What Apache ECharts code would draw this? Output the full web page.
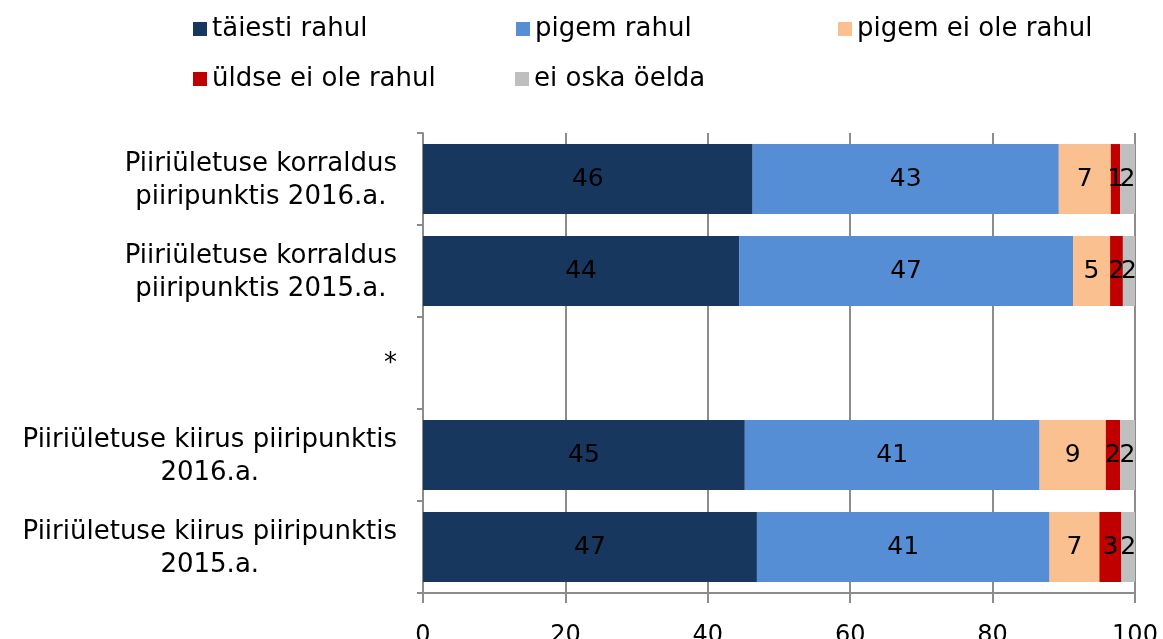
<!DOCTYPE html>
<html>
<head>
<meta charset="utf-8">
<script src="https://cdn.jsdelivr.net/npm/echarts@6/dist/echarts.min.js"></script>
<style>
  html, body { margin: 0; padding: 0; background: #fff; }
  #chart { width: 1163px; height: 639px; }
</style>
</head>
<body>
<div id="chart"></div>
<script>
// Satisfaction with border crossing (%), top row first
const categories = [
  'Piiriületuse korraldus\npiiripunktis 2016.a.',
  'Piiriületuse korraldus\npiiripunktis 2015.a.',
  '*',
  'Piiriületuse kiirus piiripunktis\n2016.a.',
  'Piiriületuse kiirus piiripunktis\n2015.a.'
];
const seriesNames = ['täiesti rahul', 'pigem rahul', 'pigem ei ole rahul', 'üldse ei ole rahul', 'ei oska öelda'];
const taiestiRahul   = [46.3, 44.4, null, 45.2, 46.9];
const pigemRahul     = [43.0, 46.9, null, 41.4, 41.1];
const pigemEiOle     = [7.3, 5.2, null, 9.3, 7.0];
const uldseEiOle     = [1.3, 1.8, null, 2.0, 3.1];
const eiOskaOelda    = [2.1, 1.7, null, 2.1, 1.9];
const xTicks = [0, 20, 40, 60, 80, 100];

const values = [taiestiRahul, pigemRahul, pigemEiOle, uldseEiOle, eiOskaOelda];
const colors = ['#17375E', '#558ED5', '#FAC090', '#C00000', '#BFBFBF'];
const FONT = 'DejaVu Sans';
const AXIS_GRAY = '#8c8c8c';

// legend laid out as a fixed grid: [left, top] per entry
const legendSlots = [[188, 9], [511, 9], [833, 9], [188, 59], [510, 59]];

const chart = echarts.init(document.getElementById('chart'), null, { renderer: 'canvas' });

chart.setOption({
  animation: false,
  color: colors,
  legend: seriesNames.map((name, i) => ({
    left: legendSlots[i][0],
    top: legendSlots[i][1],
    data: [name],
    itemWidth: 14,
    itemHeight: 14,
    itemGap: 0,
    icon: 'rect',
    selectedMode: false,
    textStyle: { fontFamily: FONT, fontSize: 26, lineHeight: 30, color: '#000' }
  })),
  grid: {
    left: 423, right: 28, top: 133, bottom: 46,
    containLabel: false,
    outerBoundsMode: 'none'
  },
  xAxis: {
    type: 'value',
    min: xTicks[0],
    max: xTicks[xTicks.length - 1],
    interval: 20,
    axisLine: { show: true, lineStyle: { color: AXIS_GRAY, width: 2 } },
    axisTick: { show: true, length: 10, lineStyle: { color: AXIS_GRAY, width: 2 } },
    splitLine: { show: true, lineStyle: { color: AXIS_GRAY, width: 2 } },
    axisLabel: { fontFamily: FONT, fontSize: 24, color: '#000', margin: 31 }
  },
  yAxis: {
    type: 'category',
    inverse: true,
    data: categories,
    axisLine: { show: true, lineStyle: { color: AXIS_GRAY, width: 2 } },
    axisTick: { show: true, length: 6, lineStyle: { color: AXIS_GRAY, width: 2 } },
    axisLabel: {
      margin: 26,
      formatter: v => v.split('\n').map(l => '{c|' + l + '}').join('\n'),
      rich: {
        c: { align: 'center', fontFamily: FONT, fontSize: 26, lineHeight: 33, color: '#000', padding: [3, 0, 0, 0] }
      }
    }
  },
  series: seriesNames.map((name, i) => ({
    name,
    type: 'bar',
    stack: 'total',
    barCategoryGap: '24%',
    data: values[i],
    itemStyle: { color: colors[i] },
    label: {
      show: true,
      position: 'inside',
      fontFamily: FONT,
      fontSize: 25,
      color: '#000',
      formatter: p => (p.value == null ? '' : String(Math.round(p.value)))
    }
  }))
});
</script>
</body>
</html>
